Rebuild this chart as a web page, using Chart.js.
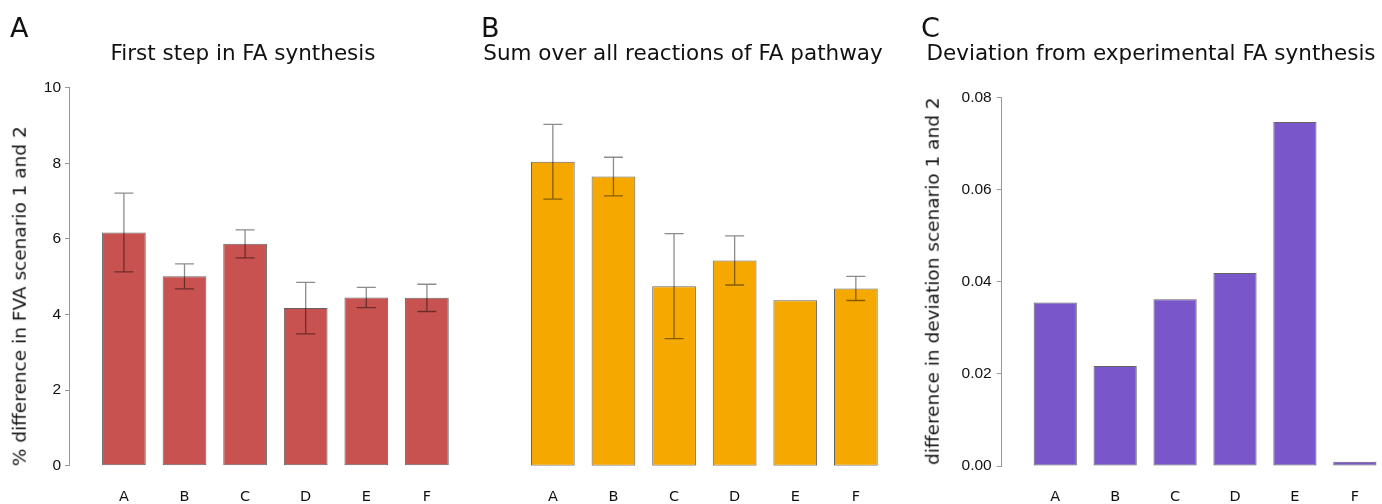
<!DOCTYPE html>
<html>
<head>
<meta charset="utf-8">
<script src="https://cdn.jsdelivr.net/npm/chart.js@4.4.1/dist/chart.umd.min.js"></script>
<style>
  body { margin: 0; background: #fff; }
  #page { position: relative; width: 1382px; height: 504px; overflow: hidden; font-family: "DejaVu Sans", sans-serif; color: #111; }
  .box { position: absolute; top: 0; height: 504px; }
  .letter { position: absolute; font-size: 27px; line-height: 27px; }
  .title { position: absolute; width: 600px; text-align: center; font-size: 21.5px; line-height: 21.5px; white-space: nowrap; }
  .ytitle { position: absolute; width: 500px; height: 18.5px; text-align: center; font-size: 18.5px; line-height: 18.5px; white-space: nowrap; transform: rotate(-90deg); }
</style>
</head>
<body>
<div id="page">
  <div class="box" style="left:0;width:460px"><canvas id="chartA" width="460" height="504"></canvas></div>
  <div class="box" style="left:460px;width:460px"><canvas id="chartB" width="460" height="504"></canvas></div>
  <div class="box" style="left:920px;width:462px"><canvas id="chartC" width="462" height="504"></canvas></div>

  <div class="letter" style="left:10px;top:14px">A</div>
  <div class="letter" style="left:481px;top:14px">B</div>
  <div class="letter" style="left:921px;top:14px">C</div>

  <div class="title" style="left:-57px;top:42px">First step in FA synthesis</div>
  <div class="title" style="left:383px;top:42px">Sum over all reactions of FA pathway</div>
  <div class="title" style="left:851px;top:42px">Deviation from experimental FA synthesis</div>

  <div class="ytitle" style="left:-230px;top:287px">% difference in FVA scenario 1 and 2</div>
  <div class="ytitle" style="left:683px;top:272px">difference in deviation scenario 1 and 2</div>
</div>

<script>
const categories = ["A", "B", "C", "D", "E", "F"];

// panel A: first step in FA synthesis
const firstStepValues = [6.17, 5.01, 5.87, 4.17, 4.45, 4.44];
const firstStepErrors = [1.04, 0.33, 0.37, 0.68, 0.27, 0.36];

// panel B: sum over all reactions (no error bar for E)
const pathwayValues = [8.04, 7.65, 4.75, 5.43, 4.38, 4.69];
const pathwayErrors = [0.99, 0.51, 1.39, 0.65, null, 0.32];

// panel C: deviation from experimental
const deviationValues = [0.0355, 0.0217, 0.0362, 0.0419, 0.0747, 0.0009];

const fvaTicks = [0, 2, 4, 6, 8, 10];
const deviationTicks = [0, 0.02, 0.04, 0.06, 0.08];

const pitch = 60.6; // px between bar centres

// error bars drawn from the dataset's errors via the y scale
const errorBars = {
  id: "errorBars",
  afterDatasetsDraw(chart) {
    const ds = chart.data.datasets[0];
    if (!ds.errors) return;
    const y = chart.scales.y;
    const bars = chart.getDatasetMeta(0).data;
    const ctx = chart.ctx;
    ctx.save();
    ctx.strokeStyle = "rgba(0,0,0,0.45)";
    ctx.lineWidth = 1.3;
    ds.errors.forEach((err, i) => {
      if (err == null) return;
      const x = bars[i].x;
      const v = ds.data[i].y;
      const top = y.getPixelForValue(v + err);
      const bot = y.getPixelForValue(v - err);
      ctx.beginPath();
      ctx.moveTo(x, top); ctx.lineTo(x, bot);
      ctx.moveTo(x - 9.5, top); ctx.lineTo(x + 9.5, top);
      ctx.moveTo(x - 9.5, bot); ctx.lineTo(x + 9.5, bot);
      ctx.stroke();
    });
    ctx.restore();
  }
};

function makePanel(id, cfg) {
  const areaLeft = cfg.areaLeft - cfg.canvasLeft;
  const areaWidth = cfg.canvasWidth - areaLeft;
  const xMin = -(cfg.firstCenter - cfg.areaLeft) / pitch;
  const xMax = xMin + areaWidth / pitch;

  new Chart(document.getElementById(id), {
    type: "bar",
    data: {
      datasets: [{
        data: categories.map((c, i) => ({ x: i, y: cfg.values[i] })),
        errors: cfg.errors,
        backgroundColor: cfg.color,
        borderColor: "rgba(60,60,60,0.8)",
        borderWidth: 1,
        borderSkipped: false,
        categoryPercentage: 1,
        barPercentage: 0.721
      }]
    },
    options: {
      responsive: false,
      animation: false,
      layout: {
        padding: { top: cfg.top, left: 0, right: 0, bottom: 0 }
      },
      plugins: { legend: { display: false }, tooltip: { enabled: false } },
      scales: {
        x: {
          type: "linear",
          offset: false,
          min: xMin,
          max: xMax,
          grid: { display: false, drawTicks: false, offset: false },
          border: { display: false },
          afterBuildTicks: s => { s.ticks = categories.map((c, i) => ({ value: i })); },
          afterFit: s => { s.height = 504 - cfg.bottom; },
          ticks: {
            autoSkip: false,
            maxRotation: 0,
            padding: 23,
            color: "#111",
            font: { family: "DejaVu Sans", size: 14.5 },
            callback: v => categories[v]
          }
        },
        y: {
          min: cfg.yTicks[0],
          max: cfg.yTicks[cfg.yTicks.length - 1],
          afterBuildTicks: s => { s.ticks = cfg.yTicks.map(v => ({ value: v })); },
          afterFit: s => { s.width = areaLeft; },
          grid: { display: cfg.showY, drawOnChartArea: false, drawTicks: true, tickLength: cfg.tickLen, color: "#999" },
          border: { display: cfg.showY, color: "#999", width: 1 },
          ticks: {
            display: cfg.showY,
            padding: cfg.tickPad,
            color: "#111",
            font: { family: "Liberation Sans", size: 15.5 },
            callback: v => cfg.fmt(v)
          }
        }
      }
    },
    plugins: [errorBars]
  });
}

makePanel("chartA", {
  canvasLeft: 0, canvasWidth: 460, areaLeft: 69, firstCenter: 123.9,
  top: 87.7, bottom: 465.7, showY: true, tickLen: 4, tickPad: 4,
  values: firstStepValues, errors: firstStepErrors, color: "#c8524f",
  yTicks: fvaTicks, fmt: v => String(v)
});

// panel B shares panel A's 0-10 scale but shows no axis
makePanel("chartB", {
  canvasLeft: 460, canvasWidth: 460, areaLeft: 500, firstCenter: 552.85,
  top: 87.7, bottom: 465.7, showY: false, tickLen: 4, tickPad: 4,
  values: pathwayValues, errors: pathwayErrors, color: "#f5a800",
  yTicks: fvaTicks, fmt: v => String(v)
});

makePanel("chartC", {
  canvasLeft: 920, canvasWidth: 462, areaLeft: 1001.7, firstCenter: 1055.85,
  top: 97.7, bottom: 466, showY: true, tickLen: 5, tickPad: 5,
  values: deviationValues, errors: null, color: "#7956c9",
  yTicks: deviationTicks, fmt: v => v.toFixed(2)
});
</script>
</body>
</html>
